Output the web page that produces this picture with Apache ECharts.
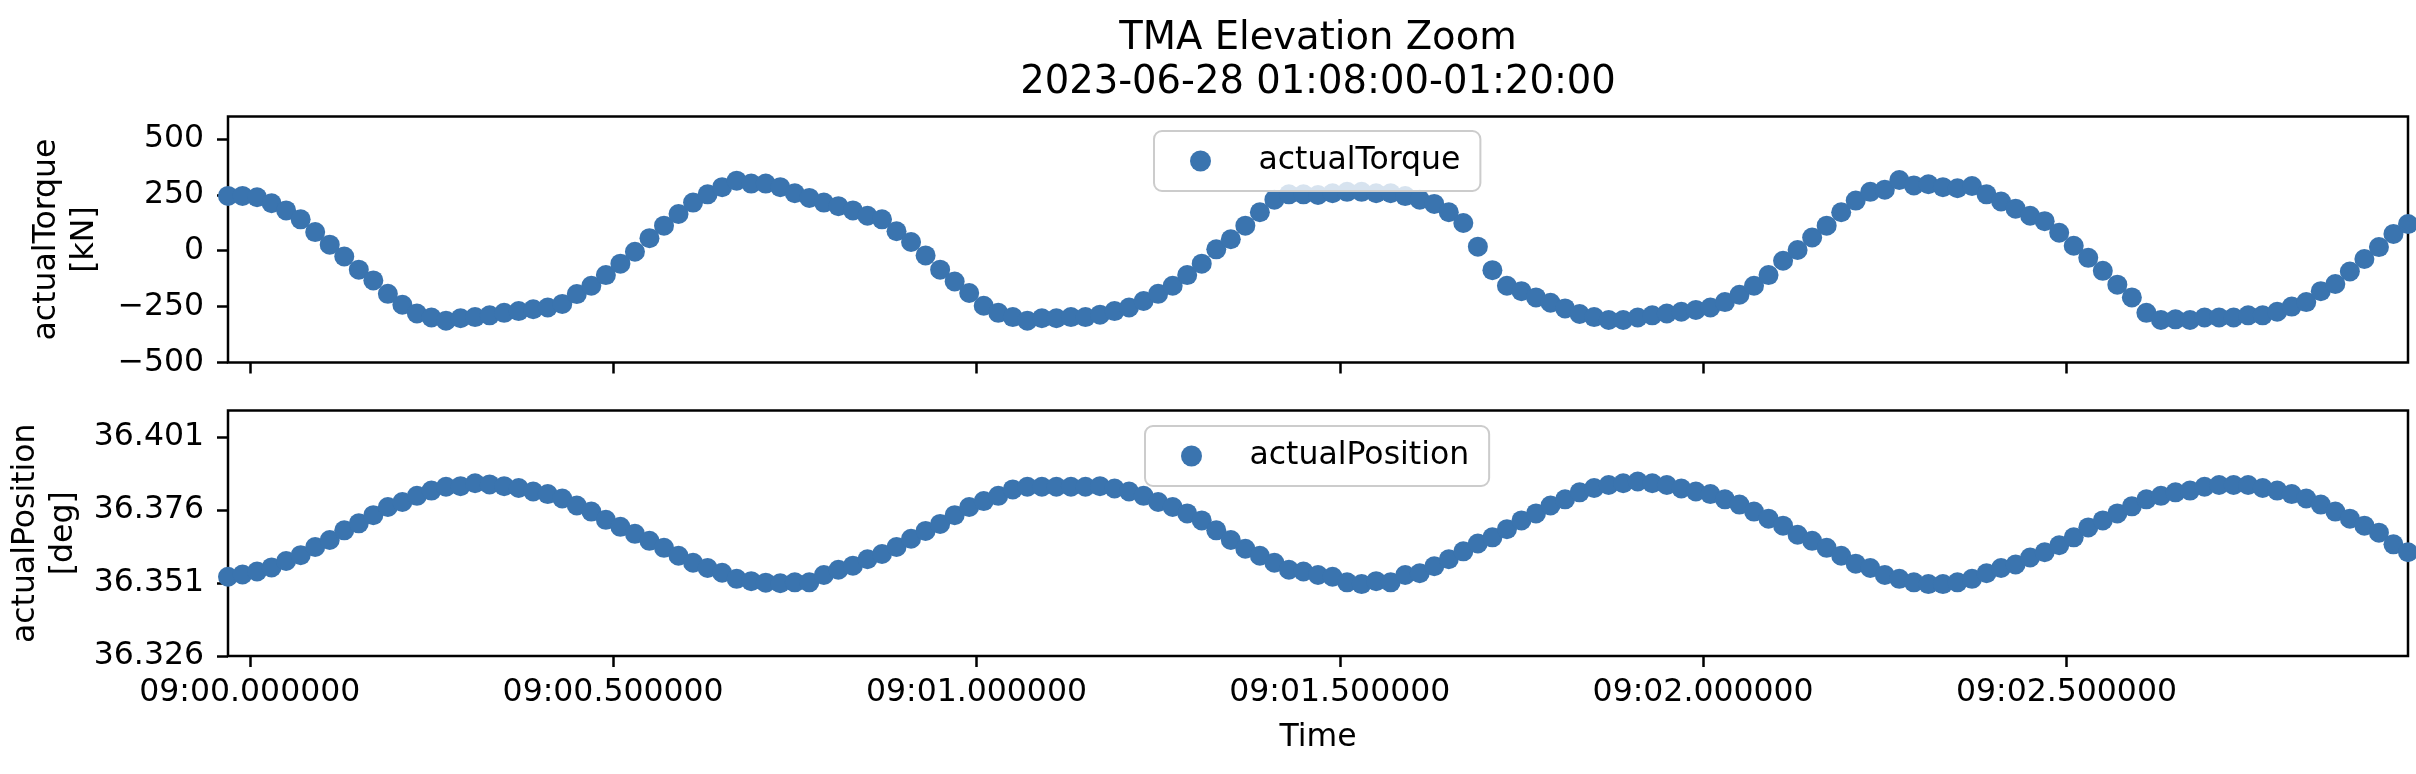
<!DOCTYPE html>
<html>
<head>
<meta charset="utf-8">
<title>TMA Elevation Zoom</title>
<script src="https://cdn.jsdelivr.net/npm/echarts@6/dist/echarts.min.js"></script>
<style>
  html, body { margin: 0; padding: 0; background: #fff; }
  #tma { width: 2416px; height: 774px; }
</style>
</head>
<body>
<div id="tma"></div>
<script>
// sample times in ms after 09:00.000
var times = [
    -30, -10, 10, 30, 50, 70, 90, 110, 130, 150,
    170, 190, 210, 230, 250, 270, 290, 310, 330, 350,
    370, 390, 410, 430, 450, 470, 490, 510, 530, 550,
    570, 590, 610, 630, 650, 670, 690, 710, 730, 750,
    770, 790, 810, 830, 850, 870, 890, 910, 930, 950,
    970, 990, 1010, 1030, 1050, 1070, 1090, 1110, 1130, 1150,
    1170, 1190, 1210, 1230, 1250, 1270, 1290, 1310, 1330, 1350,
    1370, 1390, 1410, 1430, 1450, 1470, 1490, 1510, 1530, 1550,
    1570, 1590, 1610, 1630, 1650, 1670, 1690, 1710, 1730, 1750,
    1770, 1790, 1810, 1830, 1850, 1870, 1890, 1910, 1930, 1950,
    1970, 1990, 2010, 2030, 2050, 2070, 2090, 2110, 2130, 2150,
    2170, 2190, 2210, 2230, 2250, 2270, 2290, 2310, 2330, 2350,
    2370, 2390, 2410, 2430, 2450, 2470, 2490, 2510, 2530, 2550,
    2570, 2590, 2610, 2630, 2650, 2670, 2690, 2710, 2730, 2750,
    2770, 2790, 2810, 2830, 2850, 2870, 2890, 2910, 2930, 2950,
    2970
];

// actualTorque [kN]
var actualTorque = [
    245, 245, 239, 212, 180, 140, 83, 27, -26, -85,
    -133, -193, -242, -281, -299, -313, -302, -297, -289, -278,
    -270, -262, -254, -238, -194, -157, -109, -58, -5, 56,
    112, 164, 215, 252, 284, 313, 300, 300, 284, 257,
    236, 215, 199, 180, 156, 140, 87, 39, -21, -85,
    -138, -189, -246, -278, -297, -313, -302, -302, -297, -297,
    -286, -270, -254, -225, -193, -157, -109, -58, 6, 51,
    112, 172, 228, 252, 252, 249, 257, 263, 263, 257,
    257, 244, 228, 209, 172, 124, 18, -87, -157, -181,
    -209, -233, -258, -283, -297, -310, -310, -299, -289, -281,
    -273, -265, -254, -230, -197, -157, -109, -45, 3, 59,
    112, 172, 224, 263, 273, 316, 292, 297, 284, 279,
    289, 252, 220, 188, 156, 132, 80, 22, -32, -90,
    -152, -209, -278, -310, -307, -310, -299, -299, -299, -289,
    -289, -273, -250, -230, -181, -149, -93, -37, 16, 75,
    119
];

// actualPosition [deg]
var actualPosition = [
    36.3531, 36.3539, 36.3549, 36.3563, 36.3585, 36.3605, 36.3633, 36.3657, 36.3690, 36.3714,
    36.3742, 36.3770, 36.3787, 36.3808, 36.3826, 36.3839, 36.3841, 36.3851, 36.3847, 36.3841,
    36.3835, 36.3823, 36.3814, 36.3799, 36.3775, 36.3754, 36.3726, 36.3702, 36.3678, 36.3654,
    36.3630, 36.3603, 36.3579, 36.3561, 36.3545, 36.3524, 36.3516, 36.3511, 36.3509, 36.3512,
    36.3512, 36.3537, 36.3555, 36.3569, 36.3591, 36.3609, 36.3633, 36.3661, 36.3688, 36.3712,
    36.3742, 36.3770, 36.3790, 36.3808, 36.3830, 36.3839, 36.3839, 36.3839, 36.3839, 36.3839,
    36.3841, 36.3833, 36.3823, 36.3808, 36.3787, 36.3770, 36.3748, 36.3724, 36.3690, 36.3657,
    36.3627, 36.3603, 36.3579, 36.3555, 36.3549, 36.3537, 36.3531, 36.3512, 36.3506, 36.3516,
    36.3512, 36.3537, 36.3543, 36.3567, 36.3591, 36.3618, 36.3645, 36.3666, 36.3694, 36.3724,
    36.3748, 36.3775, 36.3796, 36.3820, 36.3835, 36.3845, 36.3851, 36.3857, 36.3851, 36.3845,
    36.3833, 36.3823, 36.3814, 36.3796, 36.3778, 36.3754, 36.3730, 36.3706, 36.3675, 36.3654,
    36.3630, 36.3603, 36.3576, 36.3561, 36.3537, 36.3524, 36.3512, 36.3506, 36.3506, 36.3512,
    36.3524, 36.3543, 36.3561, 36.3573, 36.3597, 36.3615, 36.3639, 36.3666, 36.3700, 36.3724,
    36.3748, 36.3772, 36.3796, 36.3808, 36.3820, 36.3826, 36.3839, 36.3845, 36.3845, 36.3845,
    36.3835, 36.3826, 36.3814, 36.3799, 36.3778, 36.3754, 36.3730, 36.3706, 36.3682, 36.3642,
    36.3615
];

var xTickValues = [0, 500, 1000, 1500, 2000, 2500];
var xTickLabels = ['09:00.000000', '09:00.500000', '09:01.000000', '09:01.500000', '09:02.000000', '09:02.500000'];
var torqueTicks = [-500, -250, 0, 250, 500];
var positionTicks = [36.326, 36.351, 36.376, 36.401];

var FONT = 'DejaVu Sans';
var BLUE = '#3a74af';

function pairs(ys) {
    return times.map(function (t, i) { return [t, ys[i]]; });
}

function xAxisFor(idx, withLabels) {
    return {
        type: 'value',
        gridIndex: idx,
        position: 'bottom',
        min: -30,
        max: 2970,
        axisLine: { show: false, onZero: false },
        splitLine: { show: false },
        axisTick: {
            show: true,
            customValues: xTickValues,
            length: 11,
            lineStyle: { color: '#000', width: 2.5 }
        },
        axisLabel: {
            show: withLabels,
            customValues: xTickValues,
            margin: 21,
            fontSize: 31.5,
            fontFamily: FONT,
            color: '#000',
            formatter: function (v) {
                var k = xTickValues.indexOf(Math.round(v));
                return k < 0 ? '' : xTickLabels[k];
            }
        },
        name: withLabels ? 'Time' : '',
        nameLocation: 'middle',
        nameGap: 66,
        nameTextStyle: { fontSize: 31.5, fontFamily: FONT, color: '#000' }
    };
}

function yAxisFor(idx, lo, hi, ticks, fmt, name, gap) {
    return {
        type: 'value',
        gridIndex: idx,
        position: 'left',
        min: lo,
        max: hi,
        axisLine: { show: false, onZero: false },
        splitLine: { show: false },
        axisTick: {
            show: true,
            customValues: ticks,
            length: 11,
            lineStyle: { color: '#000', width: 2.5 }
        },
        axisLabel: {
            customValues: ticks,
            margin: 24,
            fontSize: 31.5,
            fontFamily: FONT,
            color: '#000',
            formatter: fmt
        },
        name: name,
        nameLocation: 'middle',
        nameRotate: 90,
        nameGap: gap,
        nameTextStyle: { fontSize: 31.5, fontFamily: FONT, color: '#000', lineHeight: 38, align: 'center' }
    };
}

function legendFor(name, left, top) {
    return {
        data: [{ name: name }],
        left: left,
        top: top,
        icon: 'circle',
        itemWidth: 52,
        itemHeight: 21,
        padding: [12, 20, 12, 36],
        backgroundColor: 'rgba(255,255,255,0.8)',
        borderColor: '#cccccc',
        borderWidth: 2,
        borderRadius: 8,
        selectedMode: false,
        textStyle: { fontSize: 31.5, fontFamily: FONT, color: '#000', lineHeight: 36, padding: [0, 0, 0, 27] }
    };
}

var myChart = echarts.init(document.getElementById('tma'));
myChart.setOption({
    animation: false,
    backgroundColor: '#fff',
    title: {
        text: 'TMA Elevation Zoom\n2023-06-28 01:08:00-01:20:00',
        left: 1318,
        top: 17,
        padding: 0,
        textAlign: 'center',
        textStyle: { fontSize: 38.5, fontWeight: 'normal', fontFamily: FONT, color: '#000', lineHeight: 44 }
    },
    legend: [
        legendFor('actualTorque', 1154, 131),
        legendFor('actualPosition', 1145, 426)
    ],
    grid: [
        { left: 228, top: 116.5, width: 2180, height: 246, show: true, borderColor: '#000', borderWidth: 2.5, containLabel: false, outerBoundsMode: 'none' },
        { left: 228, top: 410.5, width: 2180, height: 245.5, show: true, borderColor: '#000', borderWidth: 2.5, containLabel: false, outerBoundsMode: 'none' }
    ],
    xAxis: [xAxisFor(0, false), xAxisFor(1, true)],
    yAxis: [
        yAxisFor(0, -500, 600, torqueTicks, function (v) {
            return v < 0 ? '\u2212' + Math.abs(v) : String(v);
        }, 'actualTorque\n[kN]', 124),
        yAxisFor(1, 36.326, 36.410, positionTicks, function (v) {
            return v.toFixed(3);
        }, 'actualPosition\n[deg]', 144)
    ],
    series: [
        {
            name: 'actualTorque',
            type: 'scatter',
            xAxisIndex: 0,
            yAxisIndex: 0,
            symbolSize: 20,
            clip: true,
            itemStyle: { color: BLUE, opacity: 1 },
            data: pairs(actualTorque)
        },
        {
            name: 'actualPosition',
            type: 'scatter',
            xAxisIndex: 1,
            yAxisIndex: 1,
            symbolSize: 20,
            clip: true,
            itemStyle: { color: BLUE, opacity: 1 },
            data: pairs(actualPosition)
        }
    ]
});
</script>
</body>
</html>
